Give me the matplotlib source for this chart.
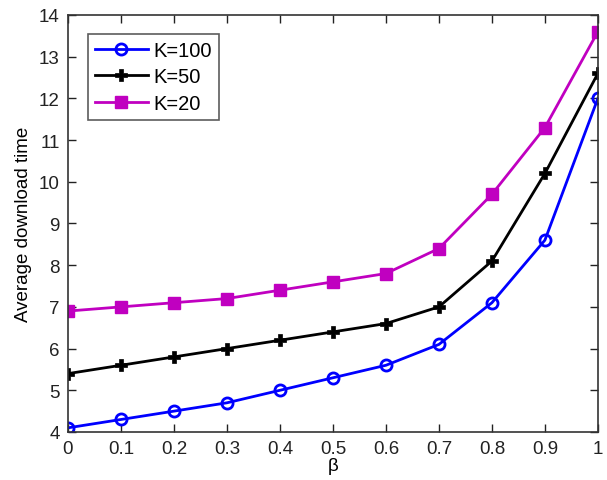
import matplotlib
matplotlib.use("Agg")
import matplotlib.pyplot as plt

plt.rcParams['font.family'] = ['Liberation Sans', 'DejaVu Sans']

beta = [0, 0.1, 0.2, 0.3, 0.4, 0.5, 0.6, 0.7, 0.8, 0.9, 1.0]
k100 = [4.1, 4.3, 4.5, 4.7, 5.0, 5.3, 5.6, 6.1, 7.1, 8.6, 12.0]
k50 = [5.4, 5.6, 5.8, 6.0, 6.2, 6.4, 6.6, 7.0, 8.1, 10.2, 12.6]
k20 = [6.9, 7.0, 7.1, 7.2, 7.4, 7.6, 7.8, 8.4, 9.7, 11.3, 13.6]
xticks = [0, 0.1, 0.2, 0.3, 0.4, 0.5, 0.6, 0.7, 0.8, 0.9, 1]
xticklabels = ['0', '0.1', '0.2', '0.3', '0.4', '0.5', '0.6', '0.7', '0.8', '0.9', '1']
yticks = list(range(4, 15))

fig = plt.figure(figsize=(6.07, 4.81), dpi=100)
ax = fig.add_axes([0.112, 0.0998, 0.873, 0.867])

ax.plot(beta, k100, color='#0000ff', lw=2.0, marker='o', ms=8, mfc='none', mec='#0000ff', mew=2, label='K=100')
ax.plot(beta, k50, color='black', lw=2.0, marker='P', ms=8, mfc='black', mec='black', mew=0.5, label='K=50')
ax.plot(beta, k20, color='#c000c0', lw=2.0, marker='s', ms=8, mfc='#c000c0', mec='#c000c0', label='K=20')

ax.set_xlim(0, 1)
ax.set_ylim(4, 14)
ax.set_xticks(xticks)
ax.set_xticklabels(xticklabels)
ax.set_yticks(yticks)
ax.tick_params(direction='in', top=True, right=True, labelsize=13.5, length=6, width=1, colors='#222222', pad=6)
for s in ax.spines.values():
    s.set_linewidth(1.2)
    s.set_color('#333333')

ax.set_xlabel('β', fontsize=13.5, labelpad=0)
ax.set_ylabel('Average download time', fontsize=13.5, labelpad=5)

leg = ax.legend(loc='upper left', bbox_to_anchor=(0.038, 0.955), fontsize=14.5, frameon=True, fancybox=False,
                edgecolor='#333333', handlelength=2.6, borderpad=0.35, labelspacing=0.38, handletextpad=0.3,
                borderaxespad=0)
leg.get_frame().set_linewidth(1.2)

fig.savefig('out.png', dpi=100)
